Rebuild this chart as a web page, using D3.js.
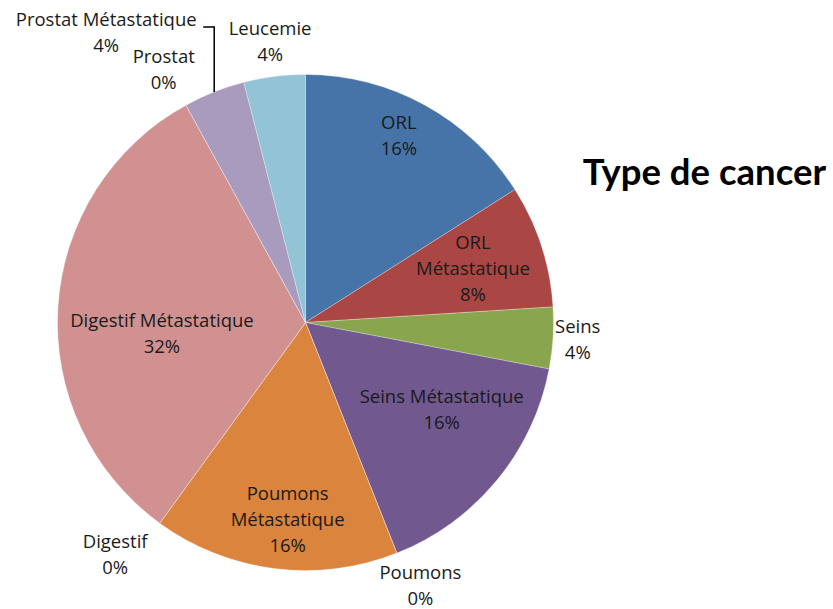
<!DOCTYPE html>
<html>
<head>
<meta charset="utf-8">
<script src="https://cdn.jsdelivr.net/npm/d3@7"></script>
<style>
  body { margin: 0; background: #fff; }
  text { font-family: "Open Sans", Lato, sans-serif; fill: #1a1a1a; }
</style>
</head>
<body>
<div id="chart"></div>
<script>
// data (counts of patients, shown as percent)
const categories = ["ORL", "ORL Métastatique", "Seins", "Seins Métastatique", "Poumons",
  "Poumons Métastatique", "Digestif", "Digestif Métastatique", "Prostat",
  "Prostat Métastatique", "Leucemie"];
const values = [4, 2, 1, 4, 0, 4, 0, 8, 0, 1, 1];
const colorsList = ["#4674a9", "#aa4643", "#89a54e", "#71588f", "#4198af",
  "#db843d", "#93a9cf", "#d09190", "#b9cd96", "#a99bbd", "#93c4d5"];
const title = "Type de cancer";

// label placement: radius factor from centre, pixel nudge, line breaks
const labelRadius = [0.84, 0.71, 1.10, 0.65, 1.16, 0.80, 1.21, 0.58, 1.17, 1.0, 1.14];
const labelNudge = [[-7, -4], [0, 0], [0, 0], [12, -16], [9, -4], [7, 0], [-14, -11], [0, 20], [-2, 1], [0, 0], [0, 0]];
const labelLines = [["ORL"], ["ORL", "Métastatique"], ["Seins"], ["Seins Métastatique"], ["Poumons"],
  ["Poumons", "Métastatique"], ["Digestif"], ["Digestif Métastatique"], ["Prostat"],
  ["Prostat Métastatique"], ["Leucemie"]];

const width = 833, height = 609;
const cx = 305.5, cy = 322.5, R = 248;
const lineH = 26;

const svg = d3.select("#chart").append("svg")
  .attr("width", width)
  .attr("height", height);

const g = svg.append("g").attr("transform", `translate(${cx},${cy})`);

const total = d3.sum(values);
const data = categories.map((c, i) => ({name: c, value: values[i], i: i}));

const pie = d3.pie().value(d => d.value).sort(null);
const arcs = pie(data);
const arc = d3.arc().innerRadius(0).outerRadius(R);

g.selectAll("path")
  .data(arcs)
  .enter()
  .append("path")
  .attr("d", arc)
  .style("fill", d => colorsList[d.data.i])
  .style("stroke", "rgba(255,255,255,0.35)")
  .style("stroke-width", 0.8);

// labels
const fmt = d => Math.round(d.value / total * 100) + "%";

arcs.forEach(d => {
  const i = d.data.i;
  const mid = (d.startAngle + d.endAngle) / 2;
  const lines = labelLines[i].concat([fmt(d.data)]);
  let x, y;
  if (d.data.name === "Prostat Métastatique") {
    // leader line from slice edge up then left
    const ex = Math.sin(mid) * R, ey = -Math.cos(mid) * R;
    const elbowY = ey - 65;
    const endX = ex - 11;
    g.append("path")
      .attr("d", `M${ex},${ey}V${elbowY}H${endX}`)
      .style("fill", "none")
      .style("stroke", "#000")
      .style("stroke-width", 1.5);
    x = endX - 97;
    y = elbowY + 6;
  } else {
    const r = R * labelRadius[i];
    x = Math.sin(mid) * r + labelNudge[i][0];
    y = -Math.cos(mid) * r + labelNudge[i][1];
  }
  const t = g.append("text")
    .attr("text-anchor", "middle")
    .style("font-size", "18.5px");
  const y0 = y - (lines.length - 1) * lineH / 2;
  lines.forEach((s, k) => {
    t.append("tspan")
      .attr("x", x)
      .attr("y", y0 + k * lineH)
      .attr("dy", "0.35em")
      .text(s);
  });
});

svg.append("text")
  .attr("x", 826)
  .attr("y", 172)
  .attr("dy", "0.35em")
  .attr("text-anchor", "end")
  .style("font-family", "Lato, sans-serif")
  .style("font-size", "36.5px")
  .style("font-weight", "bold")
  .style("fill", "#000")
  .text(title);
</script>
</body>
</html>
